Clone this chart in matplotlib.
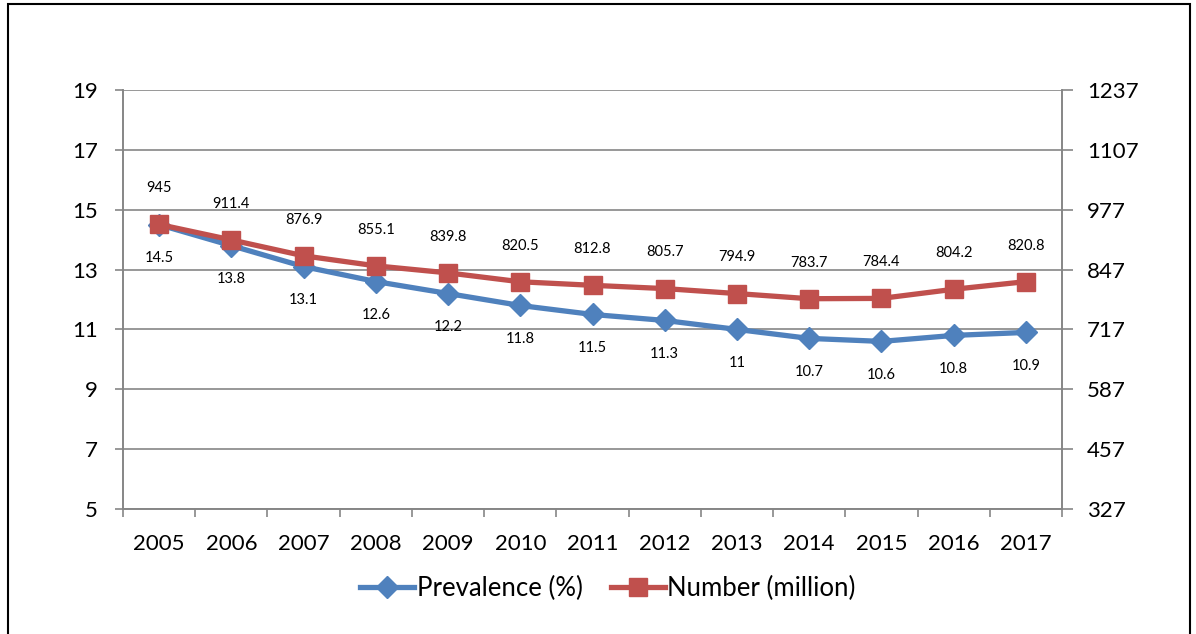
import matplotlib
matplotlib.use("Agg")
import matplotlib.pyplot as plt
from matplotlib.patches import Rectangle
from matplotlib.lines import Line2D

years = ["2005", "2006", "2007", "2008", "2009", "2010", "2011", "2012", "2013", "2014", "2015", "2016", "2017"]
prevalence = [14.5, 13.8, 13.1, 12.6, 12.2, 11.8, 11.5, 11.3, 11, 10.7, 10.6, 10.8, 10.9]
number = [945, 911.4, 876.9, 855.1, 839.8, 820.5, 812.8, 805.7, 794.9, 783.7, 784.4, 804.2, 820.8]
prev_labels = ["14.5", "13.8", "13.1", "12.6", "12.2", "11.8", "11.5", "11.3", "11", "10.7", "10.6", "10.8", "10.9"]
num_labels = ["945", "911.4", "876.9", "855.1", "839.8", "820.5", "812.8", "805.7", "794.9", "783.7", "784.4", "804.2", "820.8"]
left_ticks = [5, 7, 9, 11, 13, 15, 17, 19]
right_ticks = [327, 457, 587, 717, 847, 977, 1107, 1237]

plt.rcParams['font.family'] = ['Lato', 'DejaVu Sans']

W, H = 1196, 634
fig = plt.figure(figsize=(W / 100, H / 100), dpi=100)
fig.patches.append(Rectangle((8 / W, -0.1), (1190 - 8) / W, (H - 4) / H + 0.1,
                             transform=fig.transFigure, fill=False, edgecolor='black', linewidth=1.5))

left, right, top, bottom = 123, 1062, 90, 509
ax = fig.add_axes([left / W, 1 - bottom / H, (right - left) / W, (bottom - top) / H])
ax2 = ax.twinx()

grid_c = '#868686'
x = [i + 0.5 for i in range(len(years))]

ax.set_xlim(0, len(years))
ax.set_ylim(5, 19)
ax2.set_ylim(327, 1237)
ax.set_yticks(left_ticks)
ax.set_yticklabels([str(t) for t in left_ticks])
ax2.set_yticks(right_ticks)
ax2.set_yticklabels([str(t) for t in right_ticks])
ax.yaxis.grid(True, color=grid_c, linewidth=1.2)
ax.set_axisbelow(True)

ax.set_xticks(range(len(years) + 1))
ax.set_xticklabels([])
ax.set_xticks(x, minor=True)
ax.set_xticklabels(years, minor=True)
ax.tick_params(axis='x', which='major', length=6, color=grid_c, width=1.2)
ax.tick_params(axis='x', which='minor', length=0, labelsize=16, pad=18)
ax.tick_params(axis='y', length=6, color=grid_c, width=1.2, labelsize=16, pad=12)
ax2.tick_params(axis='y', length=8, color=grid_c, width=1.2, labelsize=16, pad=10)

for a in (ax, ax2):
    for s in a.spines.values():
        s.set_visible(False)
    for side in ('left', 'right', 'bottom'):
        a.spines[side].set_visible(True)
        a.spines[side].set_color(grid_c)
        a.spines[side].set_linewidth(1.2)

blue = '#4F81BD'
red = '#C0504D'
ax.plot(x, prevalence, color=blue, linewidth=3.8, marker='D', markersize=11, zorder=3)
ax2.plot(x, number, color=red, linewidth=3.8, marker='s', markersize=12.5, zorder=4)

for xi, v, lab in zip(x, prevalence, prev_labels):
    ax.annotate(lab, (xi, v), xytext=(0, -24), textcoords='offset points',
                ha='center', va='center', fontsize=10.5)
for xi, v, lab in zip(x, number, num_labels):
    ax2.annotate(lab, (xi, v), xytext=(0, 26), textcoords='offset points',
                 ha='center', va='center', fontsize=10.5)

handles = [Line2D([], [], color=blue, linewidth=3.8, marker='D', markersize=11),
           Line2D([], [], color=red, linewidth=3.8, marker='s', markersize=12.5)]
fig.legend(handles, ["Prevalence (%)", "Number (million)"], loc='center',
           bbox_to_anchor=(608 / W, 1 - 588 / H), ncol=2, frameon=False,
           fontsize=18.5, handlelength=2.1, handletextpad=0.1, columnspacing=1.1)

fig.savefig("out.png", dpi=100)
